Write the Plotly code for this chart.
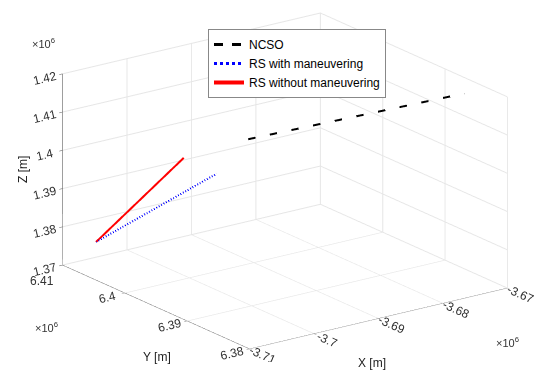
import plotly.graph_objects as go

# Data (metres)
ncso_x = [-3.690e6, -3.672e6]
ncso_y = [6.4009e6, 6.3848e6]
ncso_z = [1.4016e6, 1.4182e6]

rs_man_x = [-3.705e6, -3.698e6]
rs_man_y = [6.4098e6, 6.3977e6]
rs_man_z = [1.3742e6, 1.3981e6]

rs_noman_x = [-3.705e6, -3.700e6]
rs_noman_y = [6.4098e6, 6.4009e6]
rs_noman_z = [1.3742e6, 1.4007e6]

x_ticks = [-3.71e6, -3.70e6, -3.69e6, -3.68e6, -3.67e6]
x_text = ["-3.71", "-3.7", "-3.69", "-3.68", "-3.67"]
y_ticks = [6.38e6, 6.39e6, 6.40e6, 6.41e6]
y_text = ["6.38", "6.39", "6.4", ""]
z_ticks = [1.37e6, 1.38e6, 1.39e6, 1.40e6, 1.41e6, 1.42e6]
z_text = ["1.37", "1.38", "1.39", "1.4", "1.41", "1.42"]

fig = go.Figure()
# 3D paths (WebGL dash patterns chosen to look like the reference); legend entries drawn by proxies
fig.add_trace(go.Scatter3d(x=ncso_x, y=ncso_y, z=ncso_z, mode="lines", name="NCSO",
                           line=dict(color="black", width=4, dash="longdash"), showlegend=False))
fig.add_trace(go.Scatter3d(x=[None], y=[None], z=[None], mode="lines", name="NCSO",
                           line=dict(color="black", width=3, dash="dash"), hoverinfo="skip"))
fig.add_trace(go.Scatter3d(x=rs_man_x, y=rs_man_y, z=rs_man_z, mode="lines", name="RS with maneuvering",
                           line=dict(color="blue", width=4, dash="dash"), showlegend=False))
fig.add_trace(go.Scatter3d(x=[None], y=[None], z=[None], mode="lines", name="RS with maneuvering",
                           line=dict(color="blue", width=3, dash="dot"), hoverinfo="skip"))
fig.add_trace(go.Scatter3d(x=rs_noman_x, y=rs_noman_y, z=rs_noman_z, mode="lines", name="RS without maneuvering",
                           line=dict(color="red", width=4)))

ax_common = dict(showbackground=False, gridcolor="#e6e6e6", showline=True, linecolor="#555555",
                 ticks="outside", tickcolor="#555555", ticklen=4, zeroline=False,
                 tickfont=dict(family="Liberation Sans, Arial", size=12, color="#333333"),
                 showspikes=False, title=dict(text=""))

S = 1.76
fig.update_layout(
    width=550, height=388,
    margin=dict(l=0, r=0, t=0, b=0),
    paper_bgcolor="white",
    font=dict(family="Liberation Sans, Arial", size=11, color="#222222"),
    scene=dict(
        domain=dict(x=[0.036, 1.0], y=[0.068, 1.0]),
        xaxis=dict(range=[-3.71e6, -3.67e6], tickvals=x_ticks, ticktext=x_text, **ax_common),
        yaxis=dict(range=[6.38e6, 6.41e6], tickvals=y_ticks, ticktext=y_text, **ax_common),
        zaxis=dict(range=[1.37e6, 1.42e6], tickvals=z_ticks, ticktext=z_text, **ax_common),
        aspectmode="manual",
        aspectratio=dict(x=S, y=S, z=0.635 * S),
        camera=dict(eye=dict(x=-0.555 * 2, y=-0.765 * 2, z=0.325 * 2),
                    up=dict(x=0, y=0, z=1), center=dict(x=0, y=0, z=0),
                    projection=dict(type="orthographic")),
    ),
    legend=dict(x=208 / 550, y=1 - 29 / 388, xanchor="left", yanchor="top",
                bordercolor="#888888", borderwidth=1, bgcolor="white", itemwidth=30,
                font=dict(family="Liberation Sans, Arial", size=12, color="#000000"), tracegroupgap=0),
    annotations=[
        dict(text="×10<sup>6</sup>", x=30 / 550, y=1 - 43 / 388, xref="paper", yref="paper",
             showarrow=False, xanchor="left", yanchor="middle", font=dict(size=11, color="#333333")),
        dict(text="×10<sup>6</sup>", x=33 / 550, y=1 - 327 / 388, xref="paper", yref="paper",
             showarrow=False, xanchor="left", yanchor="middle", font=dict(size=11, color="#333333")),
        dict(text="×10<sup>6</sup>", x=494 / 550, y=1 - 342 / 388, xref="paper", yref="paper",
             showarrow=False, xanchor="left", yanchor="middle", font=dict(size=11, color="#333333")),
        dict(text="6.41", x=42 / 550, y=1 - 281 / 388, xref="paper", yref="paper",
             showarrow=False, xanchor="center", yanchor="middle", font=dict(size=12, color="#333333")),
        dict(text="Z [m]", x=14 / 550, y=1 - 170 / 388, xref="paper", yref="paper",
             showarrow=False, textangle=-90, font=dict(size=12, color="#222222")),
        dict(text="Y [m]", x=141 / 550, y=1 - 366 / 388, xref="paper", yref="paper",
             showarrow=False, font=dict(size=12, color="#222222")),
        dict(text="X [m]", x=388 / 550, y=1 - 372 / 388, xref="paper", yref="paper",
             showarrow=False, font=dict(size=12, color="#222222")),
    ],
)

fig.write_html("out.html", config={"displayModeBar": False},
               post_script="document.body.style.margin='0px';")
